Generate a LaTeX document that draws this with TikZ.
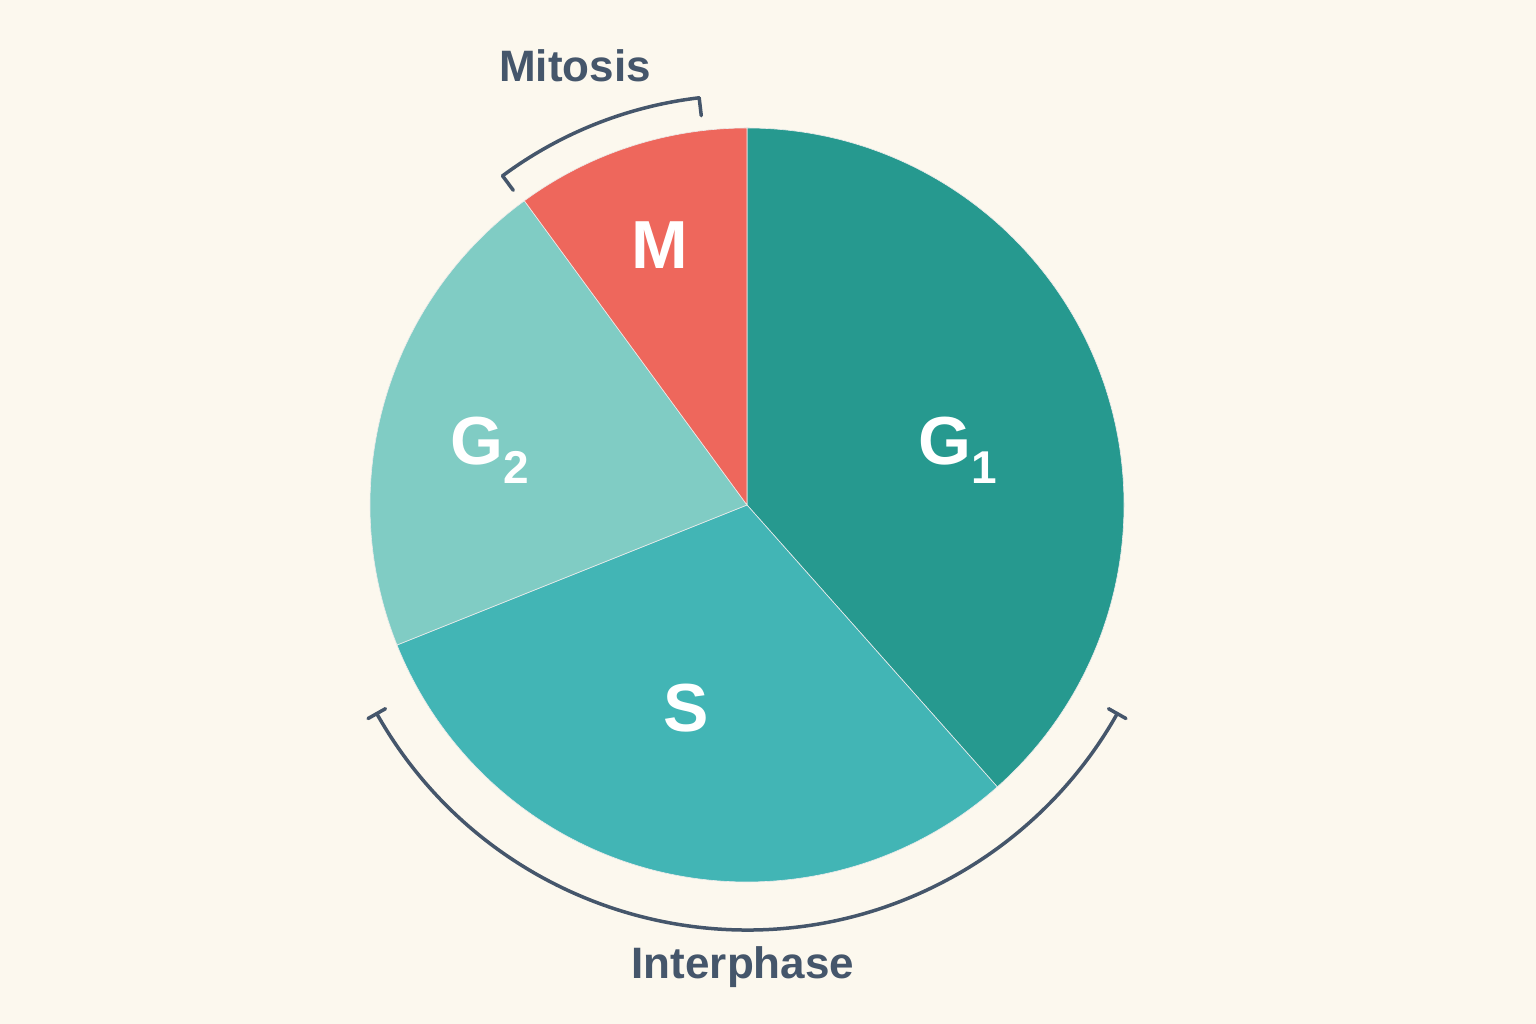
\documentclass[tikz,border=0pt]{standalone}
\usepackage{fontspec}
\setmainfont{Liberation Sans}
\definecolor{bg}{HTML}{FCF8EE}
\definecolor{gone}{HTML}{26998F}
\definecolor{sph}{HTML}{42B5B5}
\definecolor{gtwo}{HTML}{80CCC4}
\definecolor{mph}{HTML}{EE675C}
\definecolor{ink}{HTML}{45566B}
\begin{document}
\begin{tikzpicture}[x=1pt,y=1pt,
  slice/.style={draw=white!85!gray,line width=0.6pt},
  lab/.style={text=white,font=\bfseries\fontsize{68}{72}\selectfont},
  caplab/.style={text=ink,font=\bfseries\fontsize{44}{50}\selectfont},
  brk/.style={draw=ink,line width=3.5pt,line cap=round}]
\fill[bg] (0,0) rectangle (1536,1024);
\useasboundingbox (0,0) rectangle (1536,1024);
\coordinate (c) at (747,519);
\def\R{377}
\fill[gone,slice] (c) -- ++(90:\R) arc[start angle=90,end angle=-48.4,radius=\R] -- cycle;
\fill[sph,slice] (c) -- ++(-48.4:\R) arc[start angle=-48.4,end angle=-158.2,radius=\R] -- cycle;
\fill[gtwo,slice] (c) -- ++(201.8:\R) arc[start angle=201.8,end angle=126.2,radius=\R] -- cycle;
\fill[mph,slice] (c) -- ++(126.2:\R) arc[start angle=126.2,end angle=90,radius=\R] -- cycle;
\node[lab] (g1) at (958,574) {G\raisebox{-0.28em}{\fontsize{46}{48}\selectfont 1}};
\node[lab] (g2) at (490,574) {G\raisebox{-0.28em}{\fontsize{46}{48}\selectfont 2}};
\node[lab] (m) at (660,779) {M};
\node[lab] (s) at (686,316) {S};
% Mitosis bracket
\draw[brk] (c) ++(126.6:410) arc[start angle=126.6,end angle=96.7,radius=410];
\draw[brk] (c) ++(126.6:410) -- ++(126.6:-18);
\draw[brk] (c) ++(96.7:410) -- ++(96.7:-18);
\node[caplab] (mit) at (575,958) {Mitosis};
% Interphase bracket
\draw[brk] (c) ++(209.4:425) arc[start angle=209.4,end angle=330.6,radius=425];
\draw[brk] (c) ++(209.4:415) -- ++(209.4:20);
\draw[brk] (c) ++(330.6:415) -- ++(330.6:20);
\node[caplab] (int) at (743,57) {Interphase};
\end{tikzpicture}
\end{document}
